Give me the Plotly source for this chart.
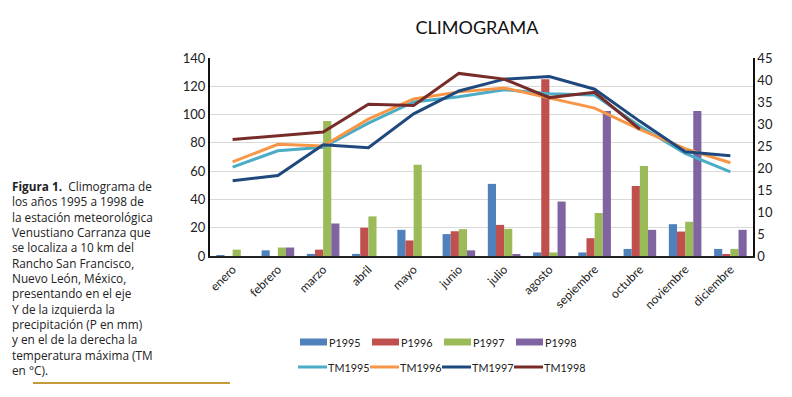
import plotly.graph_objects as go

months = ["enero", "febrero", "marzo", "abril", "mayo", "junio", "julio",
          "agosto", "sepiembre", "octubre", "noviembre", "diciembre"]

P1995 = [0.5, 4, 1.5, 1.5, 18.5, 15.5, 51, 2.5, 2.5, 5, 22.5, 5]
P1996 = [0, 0, 4.5, 20, 11, 17.5, 22, 125, 12.6, 49.5, 17.3, 1.2]
P1997 = [4.5, 6, 95.5, 28, 64.5, 19, 19.2, 2.5, 30.4, 63.7, 24.2, 5]
P1998 = [0, 6, 23, 0, 0, 4, 1, 38.5, 102.5, 18.5, 102.5, 18.5]

TM1995 = [20.2, 23.9, 24.7, 30.2, 35.0, 36.2, 37.8, 36.9, 36.6, 29.5, 23.3, 19.1]
TM1996 = [21.4, 25.4, 25.0, 31.1, 35.7, 37.3, 38.2, 35.9, 33.6, 28.8, 24.4, 21.2]
TM1997 = [17.1, 18.3, 25.3, 24.6, 32.3, 37.5, 40.2, 40.8, 37.9, 30.6, 23.7, 22.8]
TM1998 = [26.5, 27.3, 28.2, 34.5, 34.2, 41.5, 40.2, 36.0, 37.2, 28.8, None, None]

bar_series = [("P1995", P1995, "#4F81BD"), ("P1996", P1996, "#C0504D"),
              ("P1997", P1997, "#9BBB59"), ("P1998", P1998, "#8064A2")]
line_series = [("TM1995", TM1995, "#4BACC6"), ("TM1996", TM1996, "#F79646"),
               ("TM1997", TM1997, "#1F497D"), ("TM1998", TM1998, "#772C2A")]

caption_lines = [
    "<b>Figura 1.</b>  Climograma de",
    "los años 1995 a 1998 de",
    "la estación meteorológica",
    "Venustiano Carranza que",
    "se localiza a 10 km del",
    "Rancho San Francisco,",
    "Nuevo León, México,",
    "presentando en el eje",
    "Y de la izquierda la",
    "precipitación (P en mm)",
    "y en el de la derecha la",
    "temperatura máxima (TM",
    "en °C).",
]

FONT = "Lato, 'Open Sans', sans-serif"
CAP_FONT = "'Open Sans', Lato, sans-serif"

# page body has an 8px margin: figure pixel = window pixel - 8
W, H = 776, 381
L, R, T, B = 202, 31, 50, 133
PW, PH = W - L - R, H - T - B


def px_x(x):
    return (x - 8 - L) / PW


def px_y(y):
    return (H - B - (y - 8)) / PH


fig = go.Figure()

for name, vals, col in bar_series:
    fig.add_trace(go.Bar(x=months, y=vals, name=name, marker_color=col,
                         marker_line_width=0, showlegend=False, yaxis="y"))

for name, vals, col in line_series:
    fig.add_trace(go.Scatter(x=months, y=vals, name=name, mode="lines",
                             line=dict(color=col, width=3),
                             showlegend=False, yaxis="y2"))

fig.update_layout(
    width=W, height=H,
    margin=dict(l=L, r=R, t=T, b=B, autoexpand=False),
    paper_bgcolor="white", plot_bgcolor="white",
    font=dict(family=FONT, size=12, color="#222"),
    title=dict(text="CLIMOGRAMA", x=(477 - 8) / W, xanchor="center",
               y=1 - (28 - 8) / H, yanchor="middle",
               xref="container", yref="container",
               font=dict(family=FONT, size=18, color="#111")),
    barmode="group", bargap=0.28, bargroupgap=0,
    xaxis=dict(type="category", tickangle=-45, showgrid=False, automargin=False,
               showline=True, linecolor="#222", linewidth=1.5,
               ticks="", tickfont=dict(size=12, color="#222"),
               range=[-0.5, 11.5]),
    yaxis=dict(range=[0, 140], dtick=20, showgrid=True, gridcolor="#d9d9d9",
               gridwidth=1, showline=True, linecolor="#111", linewidth=2,
               automargin=False,
               ticks="", tickfont=dict(size=13, color="#222"), zeroline=False),
    yaxis2=dict(range=[0, 45], dtick=5, overlaying="y", side="right",
                showgrid=False, showline=True, linecolor="#111", linewidth=1.5,
                automargin=False,
                ticks="", tickfont=dict(size=13, color="#222"), zeroline=False),
)

# Legend (Excel-style, two rows of four entries)
LEG_SIZE = 10.8
legend_x = [300, 372, 444, 516]
for i, (name, _, col) in enumerate(bar_series):
    x0 = legend_x[i]
    fig.add_shape(type="rect", xref="paper", yref="paper",
                  x0=px_x(x0), x1=px_x(x0 + 27),
                  y0=px_y(345.5), y1=px_y(338.5),
                  line=dict(width=0), fillcolor=col)
    fig.add_annotation(text=name, xref="paper", yref="paper",
                       x=px_x(x0 + 27), y=px_y(342), xanchor="left",
                       yanchor="middle", showarrow=False,
                       font=dict(family=FONT, size=LEG_SIZE, color="#222"))
for i, (name, _, col) in enumerate(line_series):
    x0 = legend_x[i] - 2
    fig.add_shape(type="line", xref="paper", yref="paper",
                  x0=px_x(x0), x1=px_x(x0 + 29),
                  y0=px_y(367), y1=px_y(367),
                  line=dict(width=3, color=col))
    fig.add_annotation(text=name, xref="paper", yref="paper",
                       x=px_x(x0 + 28), y=px_y(367), xanchor="left",
                       yanchor="middle", showarrow=False,
                       font=dict(family=FONT, size=LEG_SIZE, color="#222"))

fig.add_annotation(
    text="<br>".join(caption_lines), xref="paper", yref="paper",
    x=px_x(10), y=px_y(176), xanchor="left", yanchor="top",
    align="left", showarrow=False,
    font=dict(family=CAP_FONT, size=11.8, color="#222"),
)

fig.add_shape(type="line", xref="paper", yref="paper",
              x0=px_x(33), x1=px_x(230), y0=px_y(383), y1=px_y(383),
              line=dict(color="#C49A3A", width=2))

fig.write_html("out.html")
